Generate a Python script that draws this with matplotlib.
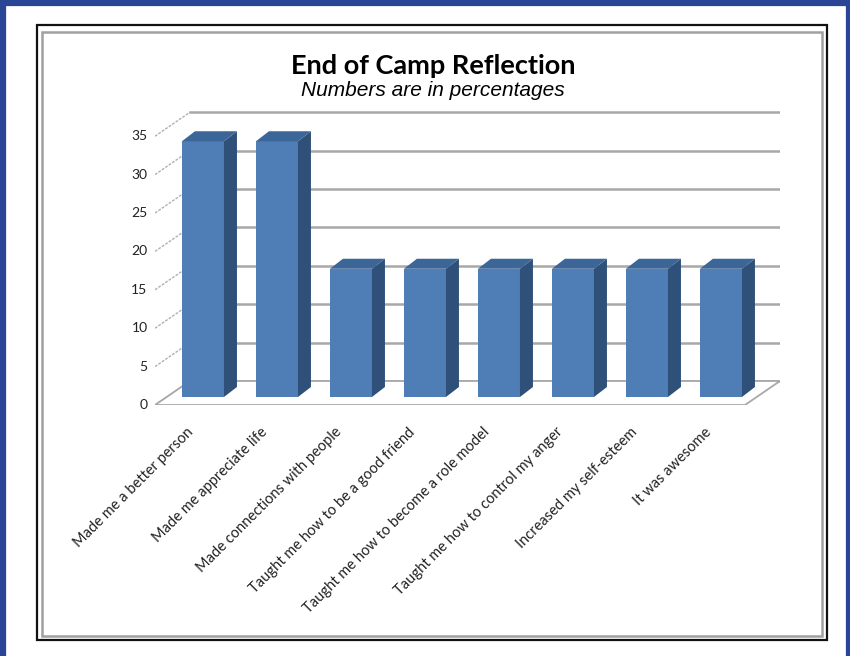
import matplotlib.pyplot as plt
from matplotlib.patches import Polygon, Rectangle

categories = ["Made me a better person", "Made me appreciate life",
              "Made connections with people", "Taught me how to be a good friend",
              "Taught me how to become a role model", "Taught me how to control my anger",
              "Increased my self-esteem", "It was awesome"]
percent = [33.3, 33.3, 16.7, 16.7, 16.7, 16.7, 16.7, 16.7]
yticks = [0, 5, 10, 15, 20, 25, 30, 35]

W, H = 850, 656
fig = plt.figure(figsize=(W / 100, H / 100), dpi=100)

# frames
fig.patches.append(Rectangle((3 / W, -0.1), (W - 4.5) / W, 1.1 - 3 / H, transform=fig.transFigure,
                             fill=False, ec="#2a4496", lw=4.5))
fig.patches.append(Rectangle((37 / W, 1 - 640 / H), 790 / W, 615 / H, transform=fig.transFigure,
                             fill=False, ec="#111111", lw=1.6))
fig.patches.append(Rectangle((42 / W, 1 - 636 / H), 780 / W, 604 / H, transform=fig.transFigure,
                             fill=False, ec="#a0a0a0", lw=1.8))

# axes: front plane, 0 at y=405px, 7.68 px per unit, 74 px per category
ax = fig.add_axes([155 / W, 1 - 405 / H, 625 / W, 295 / H])
ppu_y, ppu_x = 7.68, 74.0
dx, dy = 35 / ppu_x, 24 / ppu_y          # depth of the floor
fx, fy = 11.7 / ppu_x, 8 / ppu_y          # bar front offset
bx, by = 13 / ppu_x, 10 / ppu_y           # bar depth
bw = 42 / ppu_x
xmin, xmax = -0.49, -0.49 + 625 / ppu_x
ax.set_xlim(xmin, xmax)
ax.set_ylim(0, 295 / ppu_y)
ax.axis("off")

grid = "#a8a8a8"
# floor
ax.add_patch(Polygon([(xmin, 0), (xmax - dx, 0), (xmax, dy), (xmin + dx, dy)],
                     closed=True, fc="white", ec=grid, lw=1.3, zorder=1))
for v in yticks:
    ax.plot([xmin + dx, xmax], [v + dy, v + dy], color=grid, lw=1.8, zorder=0)
    ax.plot([xmin, xmin + dx], [v, v + dy], color="#b0b0b0", lw=1, ls=(0, (2, 1)), zorder=0)
    ax.text(xmin - 0.1, v, str(v), ha="right", va="center", fontsize=10,
            family="Lato", color="#222222")

front_c, side_c, top_c = "#4f7db6", "#2f5179", "#3c6598"
for i, val in enumerate(percent):
    x0 = i + fx - bw / 2
    x1 = x0 + bw
    ax.bar(i + fx, val, width=bw, bottom=fy, color=front_c, zorder=3)
    ax.add_patch(Polygon([(x1, fy), (x1 + bx, fy + by), (x1 + bx, fy + val + by), (x1, fy + val)],
                         closed=True, fc=side_c, ec="none", zorder=3))
    ax.add_patch(Polygon([(x0, fy + val), (x1, fy + val), (x1 + bx, fy + val + by), (x0 + bx, fy + val + by)],
                         closed=True, fc=top_c, ec="none", zorder=3))
    ax.text(i - 0.07, -2.6, categories[i], rotation=45, rotation_mode="anchor",
            ha="right", va="top", fontsize=10.5, family="Lato", color="#222222")

fig.text(433 / W, 1 - 66 / H, "End of Camp Reflection", ha="center", va="center",
         fontsize=19.5, fontweight="bold", family="Lato")
fig.text(433 / W, 1 - 90 / H, "Numbers are in percentages", ha="center", va="center",
         fontsize=15, style="italic", family="Liberation Sans")

fig.savefig("out.png", dpi=100)
